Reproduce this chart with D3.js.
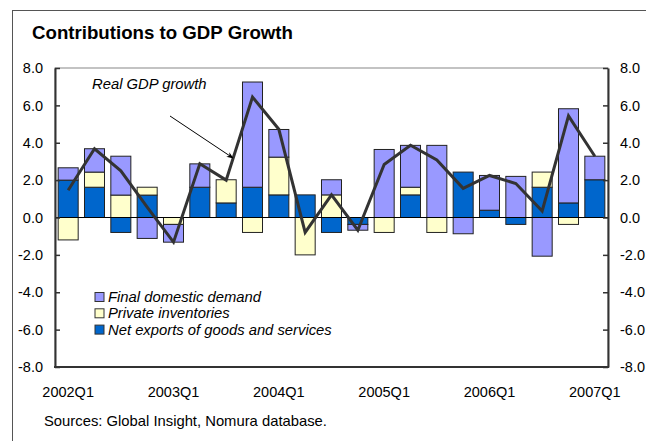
<!DOCTYPE html>
<html>
<head>
<meta charset="utf-8">
<script src="https://cdn.jsdelivr.net/npm/d3@7"></script>
<style>
  html, body { margin: 0; padding: 0; background: #fff; }
  svg { display: block; font-family: "Liberation Sans", Arial, sans-serif; }
</style>
</head>
<body>
<svg id="chart" width="646" height="441"></svg>
<script>
// Quarterly contributions to real GDP growth (percentage points, annualised)
const quarters = [
  "2002Q1","2002Q2","2002Q3","2002Q4",
  "2003Q1","2003Q2","2003Q3","2003Q4",
  "2004Q1","2004Q2","2004Q3","2004Q4",
  "2005Q1","2005Q2","2005Q3","2005Q4",
  "2006Q1","2006Q2","2006Q3","2006Q4",
  "2007Q1"
];
const netExports     = [2.0, 1.62, -0.8, 1.2, 0.0, 1.62, 0.78, 1.62, 1.21, 1.21, -0.8, -0.37, 0.0, 1.21, 0.0, 2.43, 0.39, -0.37, 1.62, 0.78, 2.02];
const inventories    = [-1.2, 0.81, 1.2, 0.42, -0.37, 0.0, 1.24, -0.8, 2.02, -2.0, 1.21, 0.0, -0.8, 0.41, -0.8, 0.0, 0.0, 0.0, 0.81, -0.37, 0.0];
const finalDomestic  = [0.66, 1.25, 2.08, -1.12, -0.95, 1.25, 0.0, 5.63, 1.48, 0.0, 0.81, -0.31, 3.64, 2.24, 3.86, -0.87, 1.86, 2.2, -2.07, 5.04, 1.26];
const realGDP        = [1.46, 3.68, 2.5, 0.55, -1.32, 2.88, 2.0, 6.44, 4.72, -0.8, 1.21, -0.68, 2.84, 3.87, 3.08, 1.56, 2.25, 1.82, 0.35, 5.44, 3.28];

const yTicks = [-8, -6, -4, -2, 0, 2, 4, 6, 8];
const xLabels = ["2002Q1","2003Q1","2004Q1","2005Q1","2006Q1","2007Q1"];

const series = [
  { key: "netExports",    label: "Net exports of goods and services", values: netExports,    color: "#0066CC" },
  { key: "inventories",   label: "Private inventories",               values: inventories,   color: "#FFFFCC" },
  { key: "finalDomestic", label: "Final domestic demand",             values: finalDomestic, color: "#9999FF" }
];

const svg = d3.select("#chart");
const W = 646, H = 441;
const plot = { left: 55, right: 608, top: 68, bottom: 367 };
const fs = 14.8;

// outer frame (runs off the right and bottom edges)
svg.append("rect")
  .attr("x", 12.5).attr("y", 10.5)
  .attr("width", W).attr("height", H)
  .attr("fill", "none").attr("stroke", "#555").attr("stroke-width", 1);

svg.append("text")
  .attr("x", 32).attr("y", 38.5)
  .attr("font-size", 18.5).attr("font-weight", "bold")
  .attr("textLength", 261).attr("lengthAdjust", "spacingAndGlyphs")
  .text("Contributions to GDP Growth");

const x = d3.scaleBand().domain(quarters).range([plot.left, plot.right]).paddingInner(0.24).paddingOuter(0.12);
const y = d3.scaleLinear().domain([-8, 8]).range([plot.bottom, plot.top]);

const rows = quarters.map((q, i) => {
  const r = { quarter: q };
  series.forEach(s => { r[s.key] = s.values[i]; });
  return r;
});

const stack = d3.stack()
  .keys(series.map(s => s.key))
  .order(d3.stackOrderNone)
  .offset(d3.stackOffsetDiverging);
const stacked = stack(rows);

// plot area frame
svg.append("rect")
  .attr("x", plot.left).attr("y", plot.top)
  .attr("width", plot.right - plot.left).attr("height", plot.bottom - plot.top)
  .attr("fill", "none").attr("stroke", "#888").attr("stroke-width", 1);

// bars
stacked.forEach((layer, li) => {
  svg.append("g")
    .selectAll("rect")
    .data(layer.filter(d => d[1] - d[0] !== 0))
    .join("rect")
    .attr("x", d => x(d.data.quarter))
    .attr("width", x.bandwidth())
    .attr("y", d => y(Math.max(d[0], d[1])))
    .attr("height", d => Math.abs(y(d[0]) - y(d[1])))
    .attr("fill", series[li].color)
    .attr("stroke", "#222")
    .attr("stroke-width", 1);
});

// zero line
svg.append("line")
  .attr("x1", plot.left).attr("x2", plot.right)
  .attr("y1", y(0)).attr("y2", y(0))
  .attr("stroke", "#000").attr("stroke-width", 1);

// GDP growth line
const line = d3.line()
  .x((d, i) => x(quarters[i]) + x.bandwidth() / 2)
  .y(d => y(d));
svg.append("path")
  .datum(realGDP)
  .attr("d", line)
  .attr("fill", "none")
  .attr("stroke", "#333")
  .attr("stroke-width", 3)
  .attr("stroke-linejoin", "miter");

// axes (plain hyphen for negatives)
const fmt = d3.formatLocale({ decimal: ".", thousands: ",", grouping: [3], currency: ["", ""], minus: "-" }).format(".1f");
const leftAxis = d3.axisLeft(y).tickValues(yTicks).tickFormat(fmt).tickSizeInner(-5).tickSizeOuter(0).tickPadding(12);
const rightAxis = d3.axisRight(y).tickValues(yTicks).tickFormat(fmt).tickSizeInner(-5).tickSizeOuter(0).tickPadding(12);

function styleAxis(g) {
  g.select(".domain").attr("stroke", "#333").attr("stroke-width", 2);
  g.selectAll(".tick line").attr("stroke", "#333").attr("stroke-width", 1.5);
  g.selectAll(".tick text").attr("font-size", 14.5).attr("fill", "#000")
    .attr("font-family", "Liberation Sans, Arial, sans-serif");
}
svg.append("g").attr("transform", `translate(${plot.left},0)`).call(leftAxis).call(styleAxis);
svg.append("g").attr("transform", `translate(${plot.right},0)`).call(rightAxis).call(styleAxis);

// bottom axis line
svg.append("line")
  .attr("x1", plot.left - 1).attr("x2", plot.right + 1)
  .attr("y1", plot.bottom).attr("y2", plot.bottom)
  .attr("stroke", "#333").attr("stroke-width", 2);

// quarter labels
svg.append("g")
  .selectAll("text")
  .data(xLabels)
  .join("text")
  .attr("x", d => x(d) + x.bandwidth() / 2)
  .attr("y", 396.5)
  .attr("text-anchor", "middle")
  .attr("font-size", 14.5)
  .text(d => d);

// annotation
svg.append("defs").append("marker")
  .attr("id", "arrow")
  .attr("viewBox", "0 0 10 10")
  .attr("refX", 9).attr("refY", 5)
  .attr("markerWidth", 7).attr("markerHeight", 7)
  .attr("orient", "auto")
  .append("path").attr("d", "M0,1 L10,5 L0,9 L3,5 Z").attr("fill", "#000");

svg.append("text")
  .attr("x", 92).attr("y", 89)
  .attr("font-size", fs).attr("font-style", "italic")
  .text("Real GDP growth");

svg.append("line")
  .attr("x1", 170).attr("y1", 116)
  .attr("x2", 233).attr("y2", 158)
  .attr("stroke", "#000").attr("stroke-width", 1)
  .attr("marker-end", "url(#arrow)");

// legend
const legendOrder = [series[2], series[1], series[0]];
const legend = svg.append("g");
legendOrder.forEach((s, i) => {
  const cy = 297 + i * 16.3;
  legend.append("rect")
    .attr("x", 95).attr("y", cy - 4.5)
    .attr("width", 9).attr("height", 9)
    .attr("fill", s.color).attr("stroke", "#333").attr("stroke-width", 1);
  legend.append("text")
    .attr("x", 108).attr("y", cy + 5)
    .attr("font-size", fs).attr("font-style", "italic")
    .text(s.label);
});

// source note
svg.append("text")
  .attr("x", 44).attr("y", 426)
  .attr("font-size", fs)
  .text("Sources: Global Insight, Nomura database.");
</script>
</body>
</html>
